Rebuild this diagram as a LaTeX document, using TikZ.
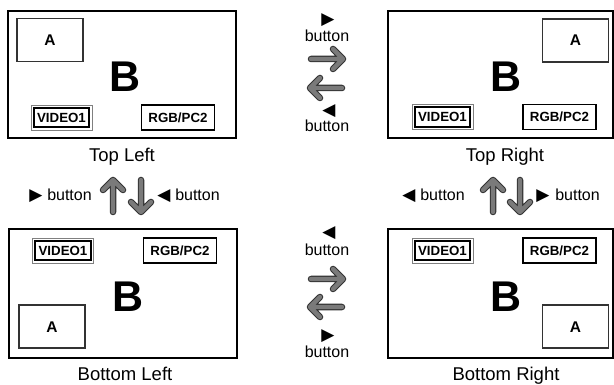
\documentclass[tikz,border=0pt]{standalone}
\usepackage{fontspec}
\setmainfont{Liberation Sans}
\newfontfamily\symfont{DejaVu Sans}
\begin{document}
\begin{tikzpicture}[x=1pt,y=-1pt,
  frame/.style={draw=black,line width=2pt,minimum width=228pt,minimum height=127pt,inner sep=0pt},
  abox/.style={draw=black!80,line width=1.2pt,minimum width=66pt,minimum height=43pt,inner sep=0pt,
    font=\fontsize{15.5}{15}\selectfont\bfseries,text height=11pt,text depth=0pt},
  rgbbox/.style={draw=black,line width=1.4pt,minimum width=73pt,minimum height=25pt,inner sep=0pt,
    font=\fontsize{13.3}{13}\selectfont\bfseries,text height=9.5pt,text depth=0pt},
  vidbox/.style={draw=black!50,line width=0.9pt,minimum width=61pt,minimum height=25pt,inner sep=0pt,
    font=\fontsize{13.3}{13}\selectfont\bfseries,text height=9.5pt,text depth=0pt},
  bigb/.style={font=\fontsize{43}{43}\selectfont\bfseries,inner sep=0pt},
  caption/.style={font=\fontsize{18.5}{20}\selectfont,anchor=base,inner sep=0pt},
  btn/.style={font=\fontsize{16}{16}\selectfont,anchor=base,inner sep=0pt},
  tri/.style={font=\symfont\fontsize{17}{17}\selectfont,inner sep=0pt},
  arrout/.style={draw=black!80,line width=6.5pt,line cap=round,line join=round},
  arrin/.style={draw=black!52,line width=4.3pt,line cap=round,line join=round},
  fatarr/.pic={
    \draw[arrout] (-16,0) -- (16,0) (6,-10) -- (16,0) -- (6,10);
    \draw[arrin] (-16,0) -- (16,0) (6,-10) -- (16,0) -- (6,10);
  }]
\useasboundingbox (0,0) rectangle (614,385);

% ---------- Top Left
\node[frame] (tl) at (122,74.5) {};
\node[abox] (tlA) at (50,40) {A};
\node[bigb] (tlB) at (125,77) {B};
\node[vidbox] (tlV) at (61.5,117.5) {VIDEO1};
\draw[line width=2pt] ([shift={(3pt,-3pt)}]tlV.north west) rectangle ([shift={(-3pt,3pt)}]tlV.south east);
\node[rgbbox] (tlR) at (178,117.5) {RGB/PC2};
\node[caption] (tlC) at (122,162) {Top Left};

% ---------- Top Right
\node[frame,minimum width=225pt] (tr) at (500,74.5) {};
\node[abox] (trA) at (575.5,40.5) {A};
\node[bigb] (trB) at (506,77) {B};
\node[vidbox] (trV) at (442.5,117) {VIDEO1};
\draw[line width=2pt] ([shift={(3pt,-3pt)}]trV.north west) rectangle ([shift={(-3pt,3pt)}]trV.south east);
\node[rgbbox] (trR) at (559.5,117) {RGB/PC2};
\node[caption] (trC) at (505,162) {Top Right};

% ---------- Bottom Left
\node[frame,minimum height=128pt] (bl) at (123,293.5) {};
\node[vidbox] (blV) at (63,250.5) {VIDEO1};
\draw[line width=2pt] ([shift={(3pt,-3pt)}]blV.north west) rectangle ([shift={(-3pt,3pt)}]blV.south east);
\node[rgbbox] (blR) at (180,250.5) {RGB/PC2};
\node[bigb] (blB) at (128,297) {B};
\node[abox] (blA) at (52,326.5) {A};
\node[caption] (blC) at (125,381) {Bottom Left};

% ---------- Bottom Right
\node[frame,minimum width=225pt,minimum height=128pt] (br) at (500,293.5) {};
\node[vidbox] (brV) at (442.5,250.5) {VIDEO1};
\draw[line width=2pt] ([shift={(3pt,-3pt)}]brV.north west) rectangle ([shift={(-3pt,3pt)}]brV.south east);
\node[rgbbox] (brR) at (559.5,250.5) {RGB/PC2};
\node[bigb] (brB) at (506,297) {B};
\node[abox] (brA) at (575.5,326.5) {A};
\node[caption] (brC) at (506,381) {Bottom Right};

% ---------- top middle
\node[tri] (t1) at (328,20) {▶};
\node[btn] (b1) at (327,42) {button};
\pic at (327,59) {fatarr};
\pic[rotate=180] at (326,88) {fatarr};
\node[tri] (t2) at (329,111) {◀};
\node[btn] (b2) at (327,132) {button};

% ---------- bottom middle
\node[tri] (t3) at (329,233) {◀};
\node[btn] (b3) at (327,255) {button};
\pic at (327,279) {fatarr};
\pic[rotate=180] at (326,307) {fatarr};
\node[tri] (t4) at (328,336) {▶};
\node[btn] (b4) at (327,357) {button};

% ---------- left vertical
\node[tri] (t5) at (36,196) {▶};
\node[btn] (b5) at (69.5,201) {button};
\pic[rotate=90] at (113,196) {fatarr};
\pic[rotate=-90] at (141,196) {fatarr};
\node[tri] (t6) at (164,196) {◀};
\node[btn] (b6) at (197.5,201) {button};

% ---------- right vertical
\node[tri] (t7) at (409,196) {◀};
\node[btn] (b7) at (442.5,201) {button};
\pic[rotate=90] at (493,196) {fatarr};
\pic[rotate=-90] at (520,196) {fatarr};
\node[tri] (t8) at (543,196) {▶};
\node[btn] (b8) at (577.5,201) {button};
\end{tikzpicture}
\end{document}
